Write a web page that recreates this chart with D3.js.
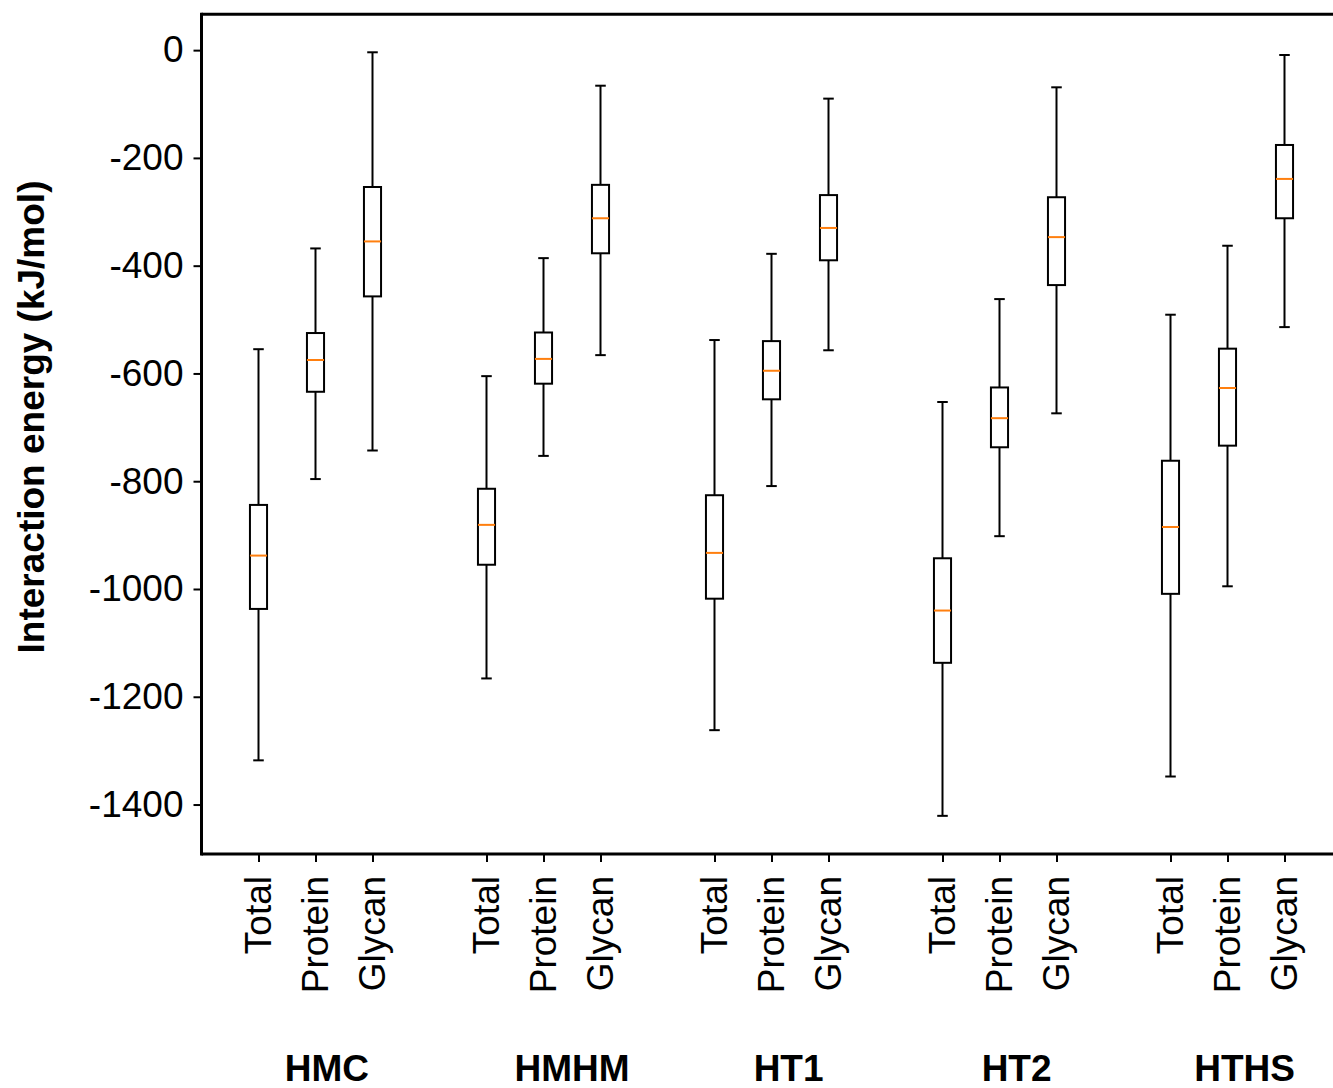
<!DOCTYPE html>
<html>
<head>
<meta charset="utf-8">
<script src="https://cdn.jsdelivr.net/npm/d3@7"></script>
<style>
  html, body { margin: 0; padding: 0; background: #fff; }
  svg { display: block; }
  text { font-family: "Liberation Sans", Arial, sans-serif; fill: #000; }
</style>
</head>
<body>
<svg id="chart" width="1333" height="1088"></svg>
<script>
// ---- data ----
const groups = ["HMC", "HMHM", "HT1", "HT2", "HTHS"];
const components = ["Total", "Protein", "Glycan"];
// per box, ordered HMC(Total,Protein,Glycan), HMHM(...), HT1, HT2, HTHS
const whiskerHigh = [-555, -368, -4,   -605, -386, -66,  -538, -378, -90,  -653, -462, -69,  -491, -363, -9];
const q3          = [-844, -525, -254, -814, -524, -250, -826, -540, -269, -943, -626, -273, -762, -554, -176];
const medians     = [-938, -575, -355, -881, -573, -312, -933, -595, -330, -1040, -683, -347, -885, -627, -239];
const q1          = [-1037, -634, -457, -955, -619, -377, -1018, -648, -390, -1137, -737, -436, -1009, -734, -312];
const whiskerLow  = [-1318, -796, -743, -1166, -753, -566, -1262, -809, -557, -1421, -902, -674, -1348, -995, -514];
const yTicks = [0, -200, -400, -600, -800, -1000, -1200, -1400];

// ---- layout ----
const svg = d3.select("#chart");
const x = d3.scaleLinear().domain([0, 20]).range([201.5, 1341.5]);
const y = d3.scaleLinear().domain([-1491.8, 66.5]).range([854, 14.3]);
const FS = 37;
const groupLabelAt = [2.2, 6.5, 10.3, 14.3, 18.3]; // label anchor in x-axis units

const boxes = whiskerHigh.map((_, i) => {
  const g = Math.floor(i / 3), c = i % 3;
  return { pos: 1 + 4 * g + c, label: components[c], hi: whiskerHigh[i], q3: q3[i], med: medians[i], q1: q1[i], lo: whiskerLow[i] };
});

const boxW = 0.3, capW = 0.15;
const gB = svg.append("g");
boxes.forEach(b => {
  const cx = x(b.pos);
  gB.append("line").attr("x1", cx).attr("x2", cx).attr("y1", y(b.q3)).attr("y2", y(b.hi))
    .attr("stroke", "#000").attr("stroke-width", 2);
  gB.append("line").attr("x1", cx).attr("x2", cx).attr("y1", y(b.q1)).attr("y2", y(b.lo))
    .attr("stroke", "#000").attr("stroke-width", 2);
  [b.hi, b.lo].forEach(v => {
    gB.append("line").attr("x1", x(b.pos - capW / 2)).attr("x2", x(b.pos + capW / 2))
      .attr("y1", y(v)).attr("y2", y(v))
      .attr("stroke", "#000").attr("stroke-width", 2).attr("stroke-linecap", "square");
  });
  gB.append("rect").attr("x", x(b.pos - boxW / 2)).attr("width", x(b.pos + boxW / 2) - x(b.pos - boxW / 2))
    .attr("y", y(b.q3)).attr("height", y(b.q1) - y(b.q3))
    .attr("fill", "none").attr("stroke", "#000").attr("stroke-width", 2);
  gB.append("line").attr("x1", x(b.pos - boxW / 2)).attr("x2", x(b.pos + boxW / 2))
    .attr("y1", y(b.med)).attr("y2", y(b.med))
    .attr("stroke", "#ff7f0e").attr("stroke-width", 2);
});

// ---- y axis ----
const yAxis = d3.axisLeft(y).tickValues(yTicks).tickSize(8).tickPadding(10).tickFormat(d => String(d));
const gy = svg.append("g").attr("transform", `translate(${x(0)},0)`).call(yAxis);
gy.select(".domain").remove();
gy.selectAll(".tick line").attr("stroke", "#000").attr("stroke-width", 2);
gy.selectAll(".tick text").attr("font-size", FS).attr("font-family", '"Liberation Sans", Arial, sans-serif').attr("fill", "#000");

// ---- x axis ----
const xAxis = d3.axisBottom(x).tickValues(boxes.map(b => b.pos)).tickSize(8).tickFormat("");
const gx = svg.append("g").attr("transform", `translate(0,${y.range()[0]})`).call(xAxis);
gx.select(".domain").remove();
gx.selectAll(".tick line").attr("stroke", "#000").attr("stroke-width", 2);

boxes.forEach(b => {
  svg.append("text")
    .attr("transform", `translate(${x(b.pos)},876) rotate(-90)`)
    .attr("text-anchor", "end").attr("dy", "0.35em")
    .attr("font-size", FS).text(b.label);
});

groups.forEach((gname, g) => {
  svg.append("text")
    .attr("x", x(groupLabelAt[g])).attr("y", 1081)
    .attr("text-anchor", "middle").attr("font-weight", "bold")
    .attr("font-size", FS).text(gname);
});

// ---- spines ----
const [yb, yt] = y.range();
svg.append("line").attr("x1", x(0)).attr("x2", x(0)).attr("y1", yt - 1.5).attr("y2", yb + 1.5).attr("stroke", "#000").attr("stroke-width", 3);
svg.append("line").attr("x1", x(0)).attr("x2", x(20)).attr("y1", yt).attr("y2", yt).attr("stroke", "#000").attr("stroke-width", 3);
svg.append("line").attr("x1", x(0)).attr("x2", x(20)).attr("y1", yb).attr("y2", yb).attr("stroke", "#000").attr("stroke-width", 3);
svg.append("line").attr("x1", x(20)).attr("x2", x(20)).attr("y1", yt).attr("y2", yb).attr("stroke", "#000").attr("stroke-width", 3);

svg.append("text")
  .attr("transform", "translate(44,417) rotate(-90)")
  .attr("text-anchor", "middle").attr("font-weight", "bold")
  .attr("font-size", FS).text("Interaction energy (kJ/mol)");
</script>
</body>
</html>
